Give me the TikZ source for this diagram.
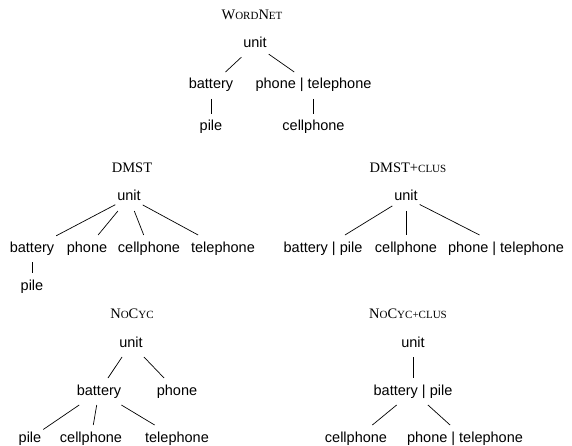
\documentclass[tikz,border=0pt]{standalone}
\usepackage{fontspec}
\setmainfont{Liberation Sans}
\newfontfamily\ttlfont{Liberation Serif}
\newcommand{\smc}[1]{{\fontsize{11}{12}\selectfont #1}}
\tikzset{
  lbl/.style={font=\fontsize{14.5}{16}\selectfont, text height=10pt, text depth=3pt, inner xsep=2pt, inner ysep=7pt, outer sep=0pt, yshift=-1.5pt},
  ttl/.style={font=\ttlfont\fontsize{14.5}{16}\selectfont, inner sep=0pt, yshift=-1pt},
  edg/.style={draw=black, line width=0.7pt}
}
\begin{document}
\begin{tikzpicture}[x=1pt,y=-1pt]
\useasboundingbox (0,0) rectangle (572,446);
% WordNet
\node[ttl] (t1) at (252,14) {W\smc{ORD}N\smc{ET}};
\node[lbl] (w-unit) at (255,43) {unit};
\node[lbl] (w-bat) at (211,84) {battery};
\node[lbl] (w-pt) at (313.5,84) {phone | telephone};
\node[lbl] (w-pile) at (211,126) {pile};
\node[lbl] (w-cell) at (313.5,126) {cellphone};
\draw[edg] (w-unit) -- (w-bat);
\draw[edg] (w-unit) -- (w-pt);
\draw[edg] (w-bat) -- (w-pile);
\draw[edg] (w-pt) -- (w-cell);
% DMST
\node[ttl] (t2) at (132,167) {DMST};
\node[lbl] (d-unit) at (129,196) {unit};
\node[lbl] (d-bat) at (32,247) {battery};
\node[lbl] (d-ph) at (87,247) {phone};
\node[lbl] (d-cell) at (149,247) {cellphone};
\node[lbl] (d-tel) at (223,247) {telephone};
\node[lbl] (d-pile) at (32,285) {pile};
\draw[edg] (d-unit) -- (d-bat);
\draw[edg] (d-unit) -- (d-ph);
\draw[edg] (d-unit) -- (d-cell);
\draw[edg] (d-unit) -- (d-tel);
\draw[edg] (d-bat) -- (d-pile);
% DMST+clus
\node[ttl] (t3) at (408,167) {DMST+\smc{CLUS}};
\node[lbl] (dc-unit) at (406,196) {unit};
\node[lbl] (dc-bp) at (323,247) {battery | pile};
\node[lbl] (dc-cell) at (406,247) {cellphone};
\node[lbl] (dc-pt) at (506,247) {phone | telephone};
\draw[edg] (dc-unit) -- (dc-bp);
\draw[edg] (dc-unit) -- (dc-cell);
\draw[edg] (dc-unit) -- (dc-pt);
% NoCyc
\node[ttl] (t4) at (132,313) {N\smc{O}C\smc{YC}};
\node[lbl] (n-unit) at (131,342) {unit};
\node[lbl] (n-bat) at (99,390) {battery};
\node[lbl] (n-ph) at (177,390) {phone};
\node[lbl] (n-pile) at (30,437) {pile};
\node[lbl] (n-cell) at (91,437) {cellphone};
\node[lbl] (n-tel) at (177,437) {telephone};
\draw[edg] (n-unit) -- (n-bat);
\draw[edg] (n-unit) -- (n-ph);
\draw[edg] (n-bat) -- (n-pile);
\draw[edg] (n-bat) -- (n-cell);
\draw[edg] (n-bat) -- (n-tel);
% NoCyc+clus
\node[ttl] (t5) at (408,313) {N\smc{O}C\smc{YC+CLUS}};
\node[lbl] (nc-unit) at (413,342) {unit};
\node[lbl] (nc-bp) at (413,390) {battery | pile};
\node[lbl] (nc-cell) at (356,437) {cellphone};
\node[lbl] (nc-pt) at (465,437) {phone | telephone};
\draw[edg] (nc-unit) -- (nc-bp);
\draw[edg] (nc-bp) -- (nc-cell);
\draw[edg] (nc-bp) -- (nc-pt);
\end{tikzpicture}
\end{document}
